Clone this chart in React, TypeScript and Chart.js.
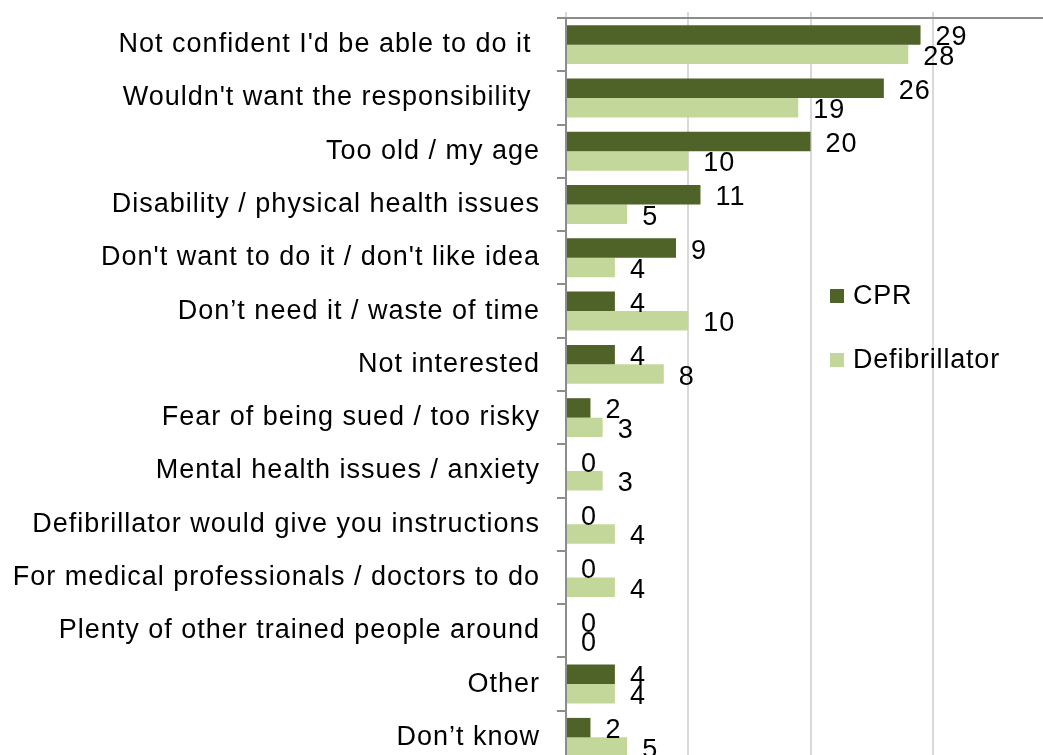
import { useEffect, useRef } from "react";
import { Chart, registerables } from "chart.js";

Chart.register(...registerables);

const categories = [
  "Not confident I'd be able to do it ",
  "Wouldn't want the responsibility ",
  "Too old / my age",
  "Disability / physical health issues",
  "Don't want to do it / don't like idea",
  "Don’t need it / waste of time",
  "Not interested",
  "Fear of being sued / too risky",
  "Mental health issues / anxiety",
  "Defibrillator would give you instructions",
  "For medical professionals / doctors to do",
  "Plenty of other trained people around",
  "Other",
  "Don’t know",
];
const seriesNames = ["CPR", "Defibrillator"];
const cprValues = [29, 26, 20, 11, 9, 4, 4, 2, 0, 0, 0, 0, 4, 2];
const defibValues = [28, 19, 10, 5, 4, 10, 8, 3, 3, 4, 4, 0, 4, 5];
const xMin = 0;
const xMax = 40;
const xStep = 10;

const FONT = "'Liberation Sans', Arial, sans-serif";
const DARK = "#4F6228";
const LIGHT = "#C4D79B";
const AXIS = "#8C8C8C";
const GRID = "#D9D9D9";

const spacingPlugin = {
  id: "spacing",
  beforeLayout(chart: any) {
    chart.ctx.letterSpacing = "1px";
  },
  beforeDraw(chart: any) {
    chart.ctx.letterSpacing = "1px";
  },
};

const labelPlugin = {
  id: "valueLabels",
  afterDatasetsDraw(chart: any) {
    const ctx = chart.ctx;
    ctx.save();
    ctx.letterSpacing = "1px";
    ctx.font = `27px ${FONT}`;
    ctx.fillStyle = "#000";
    ctx.textAlign = "left";
    ctx.textBaseline = "middle";
    chart.data.datasets.forEach((ds: any, i: number) => {
      const meta = chart.getDatasetMeta(i);
      meta.data.forEach((bar: any, j: number) => {
        const p = bar.getProps(["x", "y"], true);
        ctx.fillText(String(ds.data[j]), p.x + 15, p.y + 3);
      });
    });
    ctx.restore();
  },
};

const legendPlugin = {
  id: "customLegend",
  afterDraw(chart: any) {
    const ctx = chart.ctx;
    ctx.save();
    ctx.letterSpacing = "0.8px";
    ctx.font = `27px ${FONT}`;
    ctx.textAlign = "left";
    ctx.textBaseline = "middle";
    const ys = [296, 360];
    chart.data.datasets.forEach((ds: any, i: number) => {
      ctx.fillStyle = ds.backgroundColor;
      ctx.fillRect(830, ys[i] - 7, 14, 14);
      ctx.fillStyle = "#000";
      ctx.fillText(ds.label, 853, ys[i] + 1);
    });
    ctx.restore();
  },
};

export default function App() {
  const ref = useRef<HTMLCanvasElement | null>(null);

  useEffect(() => {
    if (!ref.current) return;
    const chart = new Chart(ref.current, {
      type: "bar",
      data: {
        labels: categories,
        datasets: [
          {
            label: seriesNames[0],
            data: cprValues,
            backgroundColor: DARK,
            borderWidth: 0,
            categoryPercentage: 0.73,
            barPercentage: 1,
          },
          {
            label: seriesNames[1],
            data: defibValues,
            backgroundColor: LIGHT,
            borderWidth: 0,
            categoryPercentage: 0.73,
            barPercentage: 1,
          },
        ],
      },
      options: {
        indexAxis: "y",
        responsive: false,
        animation: false,
        layout: { padding: { top: 12, right: 5, left: 0, bottom: 0 } },
        plugins: {
          legend: { display: false },
          tooltip: { enabled: false },
        },
        scales: {
          x: {
            position: "top",
            min: xMin,
            max: xMax,
            ticks: { display: false, stepSize: xStep },
            grid: {
              color: GRID,
              lineWidth: 2,
              drawTicks: true,
              tickLength: 6,
            },
            border: { display: true, color: AXIS, width: 2 },
            afterFit: (scale: any) => {
              scale.paddingLeft = 0;
              scale.paddingRight = 0;
            },
          },
          y: {
            afterFit: (scale: any) => {
              scale.width = 566;
              scale.paddingTop = 0;
              scale.paddingBottom = 0;
            },
            ticks: {
              autoSkip: false,
              padding: 17,
              color: "#000",
              font: { size: 27, family: FONT },
            },
            grid: {
              offset: true,
              drawOnChartArea: false,
              drawTicks: true,
              tickLength: 9,
              color: AXIS,
              lineWidth: 2,
            },
            border: { display: true, color: AXIS, width: 2 },
          },
        },
      },
      plugins: [spacingPlugin, labelPlugin, legendPlugin],
    } as any);
    return () => chart.destroy();
  }, []);

  return (
    <div
      style={{
        position: "fixed",
        left: 0,
        top: 0,
        width: 1043,
        height: 755,
        overflow: "hidden",
        background: "#fff",
      }}
    >
      <canvas ref={ref} width={1060} height={764} style={{ display: "block" }} />
    </div>
  );
}
